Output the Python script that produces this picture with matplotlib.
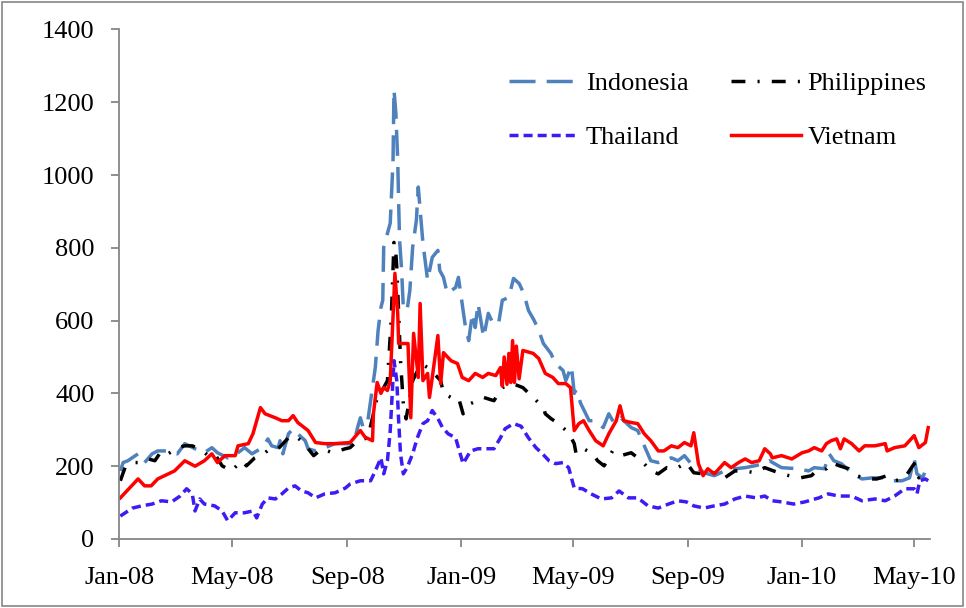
import pandas as pd
import matplotlib
matplotlib.use("Agg")
import matplotlib.pyplot as plt
import matplotlib.dates as mdates
from matplotlib.patches import Rectangle

plt.rcParams['font.family'] = ['Liberation Serif', 'DejaVu Serif']

# values
idn_dates = ["2008-01-02", "2008-01-05", "2008-01-10", "2008-01-21", "2008-01-28", "2008-02-05",
             "2008-02-11", "2008-02-21", "2008-03-03", "2008-03-11", "2008-03-22", "2008-04-01",
             "2008-04-09", "2008-04-15", "2008-04-26", "2008-05-07", "2008-05-14", "2008-05-22",
             "2008-06-02", "2008-06-08", "2008-06-12", "2008-06-19", "2008-06-21", "2008-06-24",
             "2008-06-30", "2008-07-05", "2008-07-10", "2008-07-18", "2008-07-21", "2008-07-29",
             "2008-08-08", "2008-08-19", "2008-08-30", "2008-09-08", "2008-09-12", "2008-09-15",
             "2008-09-18", "2008-09-23", "2008-10-01", "2008-10-04", "2008-10-07", "2008-10-09",
             "2008-10-10", "2008-10-17", "2008-10-20", "2008-10-21", "2008-10-23", "2008-10-25",
             "2008-10-26", "2008-10-27", "2008-10-29", "2008-10-31", "2008-11-04", "2008-11-07",
             "2008-11-10", "2008-11-14", "2008-11-16", "2008-11-19", "2008-11-21", "2008-11-26",
             "2008-12-01", "2008-12-07", "2008-12-09", "2008-12-13", "2008-12-17", "2008-12-26",
             "2008-12-29", "2009-01-02", "2009-01-05", "2009-01-09", "2009-01-13", "2009-01-16",
             "2009-01-19", "2009-01-25", "2009-01-30", "2009-02-04", "2009-02-10", "2009-02-14",
             "2009-02-21", "2009-02-26", "2009-03-04", "2009-03-09", "2009-03-14", "2009-03-20",
             "2009-03-25", "2009-03-30", "2009-04-07", "2009-04-12", "2009-04-20", "2009-04-23",
             "2009-04-29", "2009-05-02", "2009-05-04", "2009-05-09", "2009-05-18", "2009-05-25",
             "2009-06-02", "2009-06-08", "2009-06-14", "2009-06-21", "2009-07-02", "2009-07-09",
             "2009-07-16", "2009-07-23", "2009-07-31", "2009-08-06", "2009-08-14", "2009-08-21",
             "2009-08-28", "2009-09-04", "2009-09-12", "2009-09-18", "2009-09-29", "2009-10-10",
             "2009-10-21", "2009-11-01", "2009-11-11", "2009-11-21", "2009-11-27", "2009-12-10",
             "2009-12-28", "2010-01-08", "2010-01-14", "2010-01-25", "2010-01-30", "2010-02-04",
             "2010-02-12", "2010-02-23", "2010-03-06", "2010-03-17", "2010-03-28", "2010-04-07",
             "2010-04-18", "2010-04-26", "2010-05-01", "2010-05-04", "2010-05-10", "2010-05-15"]
idn_vals = [187, 210, 215, 234, 210, 234,
            242, 242, 234, 262, 248, 237,
            251, 237, 223, 237, 251, 234,
            251, 275, 256, 251, 270, 234,
            289, 303, 289, 270, 248, 242,
            251, 262, 262, 262, 306, 333,
            306, 325, 471, 573, 636, 656,
            802, 868, 1041, 1234, 1171, 1041,
            923, 821, 747, 636, 628, 683,
            802, 876, 967, 876, 813, 711,
            774, 793, 738, 719, 675, 691,
            719, 647, 592, 545, 620, 581,
            647, 554, 620, 592, 592, 656,
            664, 716, 702, 675, 628, 601,
            573, 537, 510, 482, 463, 435,
            475, 400, 410, 372, 325, 325,
            306, 344, 317, 333, 306, 298,
            256, 215, 210, 215, 223, 215,
            229, 207, 193, 182, 174, 187,
            193, 196, 201, 207, 215, 196,
            193, 187, 196, 193, 234, 215,
            207, 182, 165, 168, 168, 160,
            160, 168, 220, 179, 168, 201]

phl_dates = ["2008-01-02", "2008-01-07", "2008-01-15", "2008-01-23", "2008-02-01", "2008-02-08",
             "2008-02-15", "2008-02-22", "2008-03-04", "2008-03-11", "2008-03-19", "2008-03-30",
             "2008-04-05", "2008-04-12", "2008-04-20", "2008-04-30", "2008-05-11", "2008-05-16",
             "2008-05-25", "2008-06-05", "2008-06-10", "2008-06-19", "2008-06-30", "2008-07-07",
             "2008-07-16", "2008-07-27", "2008-08-05", "2008-08-16", "2008-08-30", "2008-09-04",
             "2008-09-12", "2008-09-23", "2008-09-29", "2008-10-03", "2008-10-10", "2008-10-14",
             "2008-10-18", "2008-10-21", "2008-10-23", "2008-10-24", "2008-10-26", "2008-10-28",
             "2008-10-31", "2008-11-03", "2008-11-10", "2008-11-19", "2008-11-26", "2008-12-01",
             "2008-12-10", "2008-12-13", "2008-12-21", "2008-12-29", "2009-01-03", "2009-01-11",
             "2009-01-18", "2009-01-25", "2009-02-05", "2009-02-14", "2009-02-25", "2009-03-08",
             "2009-03-19", "2009-03-30", "2009-04-01", "2009-04-07", "2009-04-15", "2009-04-26",
             "2009-05-02", "2009-05-04", "2009-05-12", "2009-05-22", "2009-05-27", "2009-06-03",
             "2009-06-12", "2009-06-21", "2009-07-02", "2009-07-13", "2009-07-23", "2009-07-31",
             "2009-08-09", "2009-08-19", "2009-08-30", "2009-09-07", "2009-09-17", "2009-09-29",
             "2009-10-10", "2009-10-21", "2009-11-01", "2009-11-11", "2009-11-22", "2009-12-10",
             "2009-12-18", "2009-12-30", "2010-01-11", "2010-01-16", "2010-01-27", "2010-02-01",
             "2010-02-10", "2010-02-20", "2010-02-28", "2010-03-13", "2010-03-22", "2010-04-02",
             "2010-04-10", "2010-04-20", "2010-05-01", "2010-05-06", "2010-05-13"]
phl_vals = [160, 196, 210, 210, 220, 215,
            242, 234, 251, 256, 256, 242,
            229, 234, 201, 187, 215, 201,
            223, 237, 248, 248, 278, 284,
            265, 229, 248, 237, 248, 251,
            270, 278, 344, 389, 416, 435,
            600, 815, 785, 747, 620, 490,
            372, 330, 435, 482, 471, 460,
            435, 400, 389, 389, 344, 372,
            380, 389, 380, 416, 427, 416,
            389, 361, 344, 331, 317, 292,
            262, 234, 248, 234, 215, 201,
            242, 229, 237, 215, 187, 179,
            196, 193, 210, 182, 179, 182,
            168, 187, 187, 182, 196, 179,
            174, 168, 174, 187, 193, 210,
            201, 193, 174, 165, 165, 174,
            160, 165, 207, 168, 187]

tha_dates = ["2008-01-02", "2008-01-15", "2008-01-25", "2008-02-05", "2008-02-15", "2008-02-26",
             "2008-03-06", "2008-03-13", "2008-03-19", "2008-03-22", "2008-03-27", "2008-04-01",
             "2008-04-12", "2008-04-20", "2008-04-26", "2008-05-04", "2008-05-14", "2008-05-23",
             "2008-05-27", "2008-06-02", "2008-06-08", "2008-06-16", "2008-06-23", "2008-06-30",
             "2008-07-07", "2008-07-14", "2008-07-21", "2008-07-29", "2008-08-08", "2008-08-19",
             "2008-08-30", "2008-09-04", "2008-09-15", "2008-09-26", "2008-10-01", "2008-10-07",
             "2008-10-10", "2008-10-14", "2008-10-17", "2008-10-21", "2008-10-24", "2008-10-26",
             "2008-10-28", "2008-10-31", "2008-11-04", "2008-11-10", "2008-11-15", "2008-11-21",
             "2008-11-26", "2008-12-01", "2008-12-07", "2008-12-12", "2008-12-18", "2008-12-26",
             "2008-12-29", "2009-01-03", "2009-01-11", "2009-01-19", "2009-01-29", "2009-02-05",
             "2009-02-12", "2009-02-17", "2009-02-26", "2009-03-06", "2009-03-14", "2009-03-22",
             "2009-03-29", "2009-04-05", "2009-04-12", "2009-04-20", "2009-04-26", "2009-05-02",
             "2009-05-11", "2009-05-20", "2009-05-31", "2009-06-11", "2009-06-19", "2009-06-29",
             "2009-07-09", "2009-07-20", "2009-07-31", "2009-08-11", "2009-08-21", "2009-08-30",
             "2009-09-07", "2009-09-18", "2009-09-29", "2009-10-10", "2009-10-21", "2009-11-01",
             "2009-11-13", "2009-11-22", "2009-11-30", "2009-12-10", "2009-12-23", "2010-01-04",
             "2010-01-19", "2010-01-29", "2010-02-09", "2010-02-23", "2010-03-06", "2010-03-20",
             "2010-03-31", "2010-04-10", "2010-04-21", "2010-05-01", "2010-05-04", "2010-05-07",
             "2010-05-13", "2010-05-16"]
tha_vals = [63, 85, 91, 96, 105, 102,
            118, 138, 124, 77, 110, 96,
            91, 77, 50, 72, 72, 77,
            58, 96, 113, 110, 124, 140,
            146, 132, 127, 113, 124, 127,
            140, 151, 160, 160, 187, 223,
            179, 215, 298, 490, 435, 325,
            234, 179, 196, 234, 278, 317,
            325, 353, 331, 306, 289, 278,
            251, 207, 242, 248, 248, 248,
            278, 303, 317, 310, 278, 251,
            234, 215, 207, 210, 196, 140,
            138, 124, 110, 113, 132, 113,
            113, 91, 85, 96, 105, 102,
            91, 85, 91, 96, 110, 118,
            113, 118, 105, 102, 96, 102,
            113, 124, 118, 118, 105, 110,
            105, 118, 138, 138, 124, 160,
            165, 160]

vnm_dates = ["2008-01-02", "2008-01-21", "2008-01-28", "2008-02-04", "2008-02-11", "2008-02-29",
             "2008-03-11", "2008-03-22", "2008-04-01", "2008-04-09", "2008-04-15", "2008-04-23",
             "2008-05-04", "2008-05-07", "2008-05-18", "2008-05-23", "2008-05-31", "2008-06-05",
             "2008-06-16", "2008-06-23", "2008-06-30", "2008-07-05", "2008-07-10", "2008-07-21",
             "2008-07-29", "2008-08-08", "2008-08-19", "2008-09-04", "2008-09-15", "2008-09-20",
             "2008-09-28", "2008-09-29", "2008-10-03", "2008-10-07", "2008-10-10", "2008-10-14",
             "2008-10-17", "2008-10-22", "2008-10-25", "2008-10-26", "2008-11-05", "2008-11-08",
             "2008-11-11", "2008-11-16", "2008-11-18", "2008-11-21", "2008-11-26", "2008-11-28",
             "2008-12-01", "2008-12-07", "2008-12-10", "2008-12-13", "2008-12-21", "2008-12-28",
             "2009-01-02", "2009-01-09", "2009-01-16", "2009-01-24", "2009-01-30", "2009-02-07",
             "2009-02-12", "2009-02-14", "2009-02-16", "2009-02-19", "2009-02-21", "2009-02-23",
             "2009-02-25", "2009-02-27", "2009-03-01", "2009-03-04", "2009-03-08", "2009-03-19",
             "2009-03-25", "2009-04-01", "2009-04-09", "2009-04-15", "2009-04-23", "2009-04-28",
             "2009-05-02", "2009-05-07", "2009-05-12", "2009-05-18", "2009-05-25", "2009-06-02",
             "2009-06-08", "2009-06-16", "2009-06-20", "2009-06-24", "2009-07-02", "2009-07-09",
             "2009-07-16", "2009-07-23", "2009-07-31", "2009-08-06", "2009-08-14", "2009-08-21",
             "2009-08-28", "2009-09-04", "2009-09-07", "2009-09-12", "2009-09-17", "2009-09-22",
             "2009-09-29", "2009-10-10", "2009-10-17", "2009-10-25", "2009-11-01", "2009-11-08",
             "2009-11-16", "2009-11-22", "2009-11-28", "2009-11-30", "2009-12-10", "2009-12-21",
             "2010-01-01", "2010-01-08", "2010-01-14", "2010-01-22", "2010-01-27", "2010-02-01",
             "2010-02-07", "2010-02-11", "2010-02-15", "2010-02-23", "2010-03-03", "2010-03-09",
             "2010-03-20", "2010-03-31", "2010-04-02", "2010-04-10", "2010-04-21", "2010-05-01",
             "2010-05-06", "2010-05-13", "2010-05-16"]
vnm_vals = [113, 165, 146, 146, 165, 187,
            215, 200, 215, 234, 210, 229,
            229, 256, 262, 289, 361, 344,
            333, 325, 325, 339, 320, 298,
            265, 262, 262, 265, 298, 280,
            270, 344, 430, 400, 416, 408,
            435, 730, 620, 537, 537, 333,
            565, 444, 647, 435, 455, 389,
            444, 559, 427, 512, 490, 482,
            444, 435, 455, 444, 455, 449,
            471, 420, 500, 425, 510, 430,
            545, 430, 530, 440, 518, 510,
            496, 455, 444, 427, 427, 416,
            298, 317, 325, 298, 270, 256,
            289, 325, 366, 325, 320, 317,
            289, 270, 242, 242, 256, 251,
            265, 256, 292, 207, 174, 193,
            179, 210, 196, 210, 220, 210,
            215, 248, 234, 223, 229, 220,
            237, 242, 251, 242, 262, 270,
            275, 248, 275, 262, 242, 256,
            256, 262, 242, 251, 256, 284,
            251, 265, 306]

x_start = "2008-01-01"
x_end = "2010-05-18"
y_ticks = [0, 200, 400, 600, 800, 1000, 1200, 1400]

fig = plt.figure(figsize=(9.66, 6.08), dpi=100)
ax = fig.add_axes([0.1236, 0.1135, 0.8392, 0.8380])

lw = 2.5
ax.plot(pd.to_datetime(idn_dates), idn_vals, color='#4F81BD', lw=lw,
        dashes=(7.5, 3.2), label='Indonesia')
ax.plot(pd.to_datetime(phl_dates), phl_vals, color='black', lw=lw,
        dashes=(4, 3.5, 0.6, 3.5), label='Philippines')
ax.plot(pd.to_datetime(tha_dates), tha_vals, color='#3C1CF4', lw=lw,
        dashes=(2.6, 1.45), label='Thailand')
ax.plot(pd.to_datetime(vnm_dates), vnm_vals, color='#FF0000', lw=lw,
        label='Vietnam')

ax.set_ylim(0, 1400)
ax.set_yticks(y_ticks)
ax.set_xlim(pd.Timestamp(x_start), pd.Timestamp(x_end))
ax.xaxis.set_major_locator(mdates.MonthLocator(bymonth=[1, 5, 9]))
ax.xaxis.set_major_formatter(mdates.DateFormatter('%b-%y'))

for side in ['top', 'right']:
    ax.spines[side].set_visible(False)
for side in ['left', 'bottom']:
    ax.spines[side].set_color('#868686')
    ax.spines[side].set_linewidth(1.3)
ax.tick_params(axis='both', direction='out', color='#868686', width=1.3,
               length=6, labelsize=19)
ax.tick_params(axis='y', pad=12)
ax.tick_params(axis='x', pad=14)

handles, labels = ax.get_legend_handles_labels()
order = [0, 2, 1, 3]
ax.legend([handles[i] for i in order], [labels[i] for i in order],
          ncol=2, frameon=False, fontsize=19, loc='upper left',
          bbox_to_anchor=(0.481, 0.918), handlelength=2.65,
          handletextpad=0.25, columnspacing=1.6, labelspacing=1.18,
          borderaxespad=0, borderpad=0)

fig.patches.append(Rectangle((0.002, 0.003), 0.995, 0.994, transform=fig.transFigure,
                             fill=False, edgecolor='#868686', lw=1.2))

fig.savefig('out.png', dpi=100)
